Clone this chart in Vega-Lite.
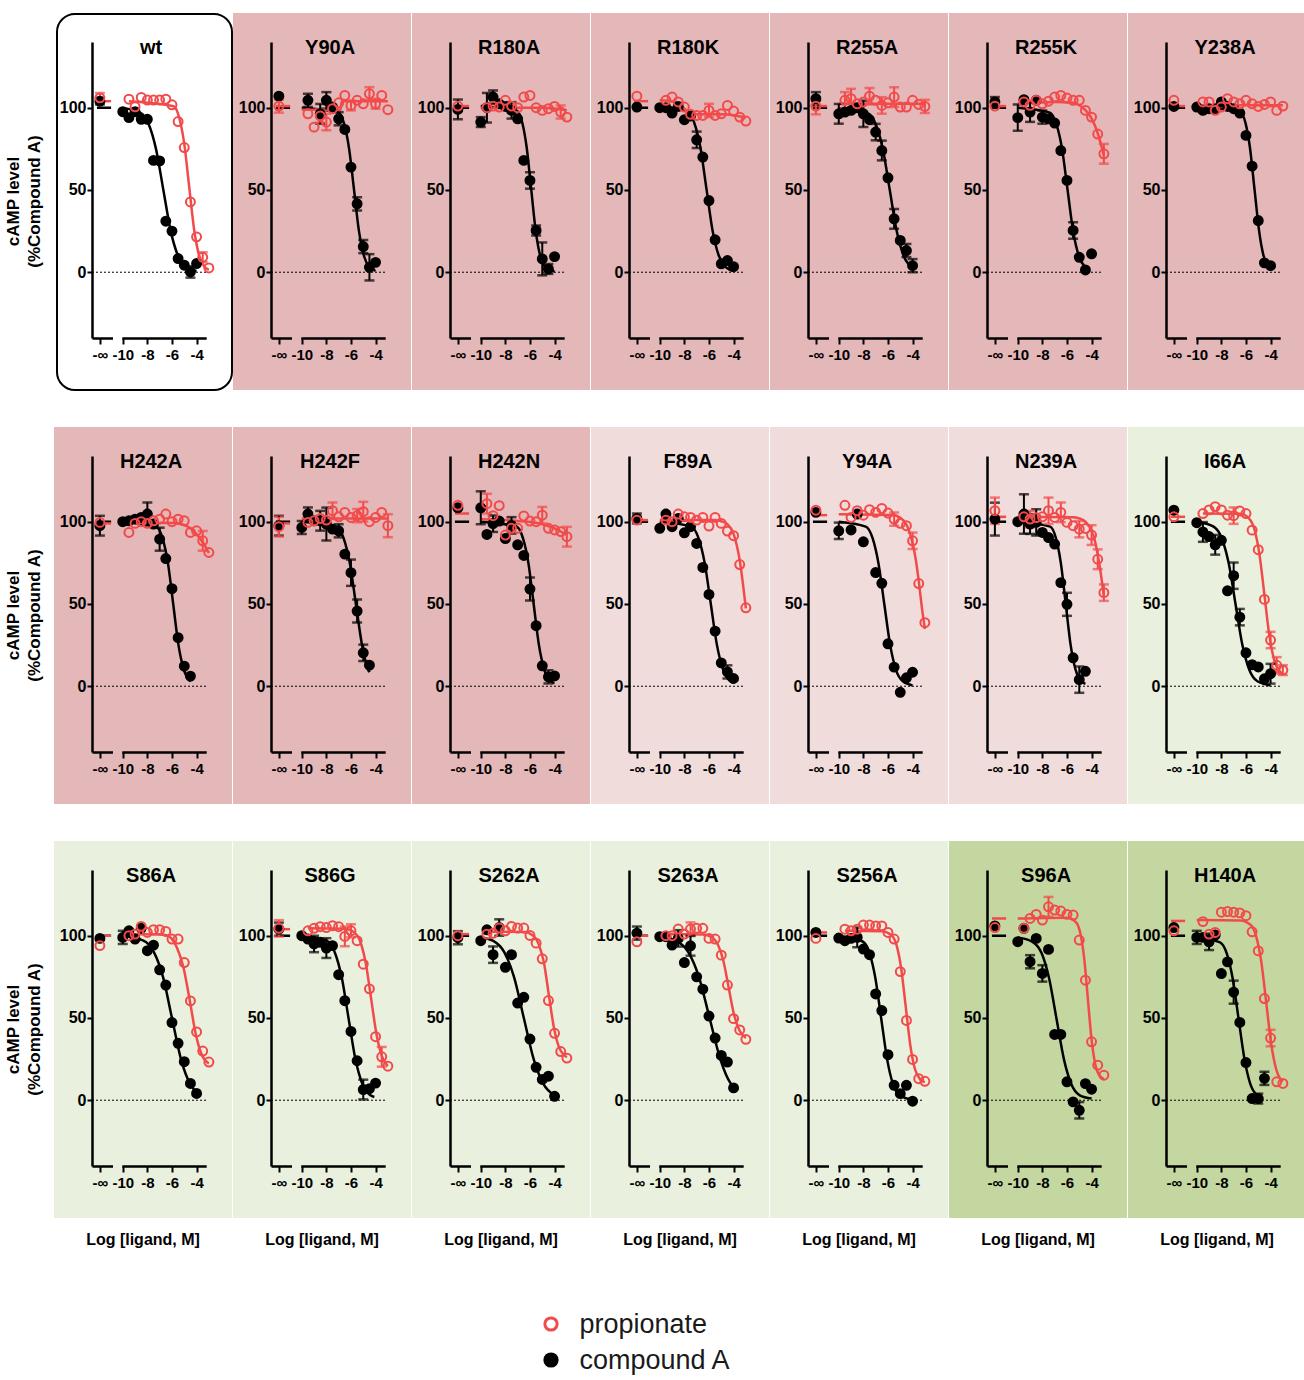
{
"$schema":"https://vega.github.io/schema/vega-lite/v6.json",
"padding":{"left":4,"top":13,"right":0,"bottom":0},
"background":"white",
"spacing":58,
"center":true,
"vconcat":[
{
"data":{"values":[
{"p":"wt","r":1,"c":1,"k":"panel","grp":"wt","x":[0],"y":[0],"e":[0]},
{"p":"wt","r":1,"c":1,"k":"pt","s":"compound A","x":[-11.86,-10,-9.5,-9,-8.5,-8,-7.5,-7,-6.5,-6,-5.5,-5,-4.5,-4],"y":[104,97.6,94,97.6,93,93,68,67.7,31,25,8.3,4.3,0.2,5.3],"e":[2,0,0,0,0,0,0,0,0,0,0,0,3.5,0]},
{"p":"wt","r":1,"c":1,"k":"pt","s":"propionate","x":[-11.86,-9.5,-9,-8.5,-8,-7.5,-7,-6.5,-6,-5.5,-5,-4.5,-4,-3.5,-3],"y":[106,105.2,100.6,106.3,104.7,104.7,104.7,105.2,101.8,91.6,75.8,42.7,21.5,9.1,2.6],"e":[3,0,0,0,0,0,0,0,0,0,0,0,0,3,0]},
{"p":"wt","r":1,"c":1,"k":"cv","s":"compound A","g":"fit","x":[-10,-8.59,-7.89,-7.3,-6.7,-6.1,-5.51,-4.81,-4],"y":[99.8,97,90,75,50,25,10,3,0.7],"e":[]},
{"p":"wt","r":1,"c":1,"k":"cv","s":"propionate","g":"fit","x":[-9.5,-5.86,-5.4,-5.0,-4.6,-4.2,-3.8,-3.34,-3],"y":[104,100.9,93.6,78,52,26,10.4,3.1,1.5],"e":[]},
{"p":"wt","r":1,"c":1,"k":"cv","s":"compound A","g":"inf","x":[-12.1,-10.95],"y":[100,100],"e":[]},
{"p":"wt","r":1,"c":1,"k":"cv","s":"propionate","g":"inf","x":[-12.1,-10.95],"y":[104,104],"e":[]},

{"p":"Y90A","r":1,"c":2,"k":"panel","grp":"A","x":[0],"y":[0],"e":[0]},
{"p":"Y90A","r":1,"c":2,"k":"pt","s":"compound A","x":[-11.86,-9.5,-8.5,-8,-7.5,-7,-6.5,-6,-5.5,-5,-4.5,-4],"y":[107,104.5,96.3,104.5,100.4,93.3,86.8,63.9,41.6,15.6,3,6],"e":[0,4,6,5,0,4,0,0,4,4,8,0]},
{"p":"Y90A","r":1,"c":2,"k":"pt","s":"propionate","x":[-11.86,-9.5,-9,-8.5,-8,-7.5,-7,-6.5,-6,-5.5,-5,-4.5,-4,-3.5,-3],"y":[101,96.3,88.2,95,91.3,99.4,103,107.5,101.4,104.5,102.4,108.5,102.4,107.5,98.8],"e":[4,0,0,4,5,0,0,0,3,0,0,4,3,0,0]},
{"p":"Y90A","r":1,"c":2,"k":"cv","s":"compound A","g":"fit","x":[-10,-7.01,-6.55,-6.15,-5.75,-5.35,-4.95,-4.49,-4],"y":[100,97,90,75,50,25,10,3,0.8],"e":[]},
{"p":"Y90A","r":1,"c":2,"k":"cv","s":"propionate","g":"fit","x":[-10,-6.85,-6.75,-3],"y":[98.8,98.8,103.9,103.9],"e":[]},
{"p":"Y90A","r":1,"c":2,"k":"cv","s":"compound A","g":"inf","x":[-12.1,-10.95],"y":[100,100],"e":[]},
{"p":"Y90A","r":1,"c":2,"k":"cv","s":"propionate","g":"inf","x":[-12.1,-10.95],"y":[101,101],"e":[]},

{"p":"R180A","r":1,"c":3,"k":"panel","grp":"A","x":[0],"y":[0],"e":[0]},
{"p":"R180A","r":1,"c":3,"k":"pt","s":"compound A","x":[-11.86,-10,-9.5,-9,-8.5,-8,-7.5,-7,-6.5,-6,-5.5,-5,-4.5,-4],"y":[99,91.3,100,106.5,102.4,100.8,98.4,93.3,68,55.8,25.4,8.1,2,9.5],"e":[6,3,9,4,0,0,5,0,0,5,3,10,3,0]},
{"p":"R180A","r":1,"c":3,"k":"pt","s":"propionate","x":[-11.86,-9.5,-9,-8.5,-8,-7.5,-7,-6.5,-6,-5.5,-5,-4.5,-4,-3.5,-3],"y":[101,100,101,100.4,104.5,101,100,106.5,107.5,100,98.4,99.4,100.8,97.4,94.3],"e":[0,0,0,0,0,0,0,0,0,0,0,0,0,4,0]},
{"p":"R180A","r":1,"c":3,"k":"cv","s":"compound A","g":"fit","x":[-10,-7.06,-6.63,-6.27,-5.9,-5.53,-5.17,-4.74,-4],"y":[101,98,91,76,50.5,25,10,3,0.5],"e":[]},
{"p":"R180A","r":1,"c":3,"k":"cv","s":"propionate","g":"fit","x":[-10,-5,-3],"y":[100,100,98.5],"e":[]},
{"p":"R180A","r":1,"c":3,"k":"cv","s":"compound A","g":"inf","x":[-12.1,-10.95],"y":[100,100],"e":[]},
{"p":"R180A","r":1,"c":3,"k":"cv","s":"propionate","g":"inf","x":[-12.1,-10.95],"y":[101,101],"e":[]},

{"p":"R180K","r":1,"c":4,"k":"panel","grp":"A","x":[0],"y":[0],"e":[0]},
{"p":"R180K","r":1,"c":4,"k":"pt","s":"compound A","x":[-11.86,-10,-9.5,-9,-8.5,-8,-7.5,-7,-6.5,-6,-5.5,-5,-4.5,-4],"y":[100.4,100,100,96.8,100.8,92.7,95,80.5,70,43.6,19.7,5.1,7.1,3.4],"e":[0,0,0,0,0,0,0,5,0,0,0,0,0,0]},
{"p":"R180K","r":1,"c":4,"k":"pt","s":"propionate","x":[-11.86,-9.5,-9,-8.5,-8,-7.5,-7,-6.5,-6,-5.5,-5,-4.5,-4,-3.5,-3],"y":[107,104.5,106.5,103.5,100.4,96,95.3,95.3,98.4,95.3,96.3,101.4,98,94.3,91.9],"e":[0,0,0,0,0,0,0,0,4,0,0,0,0,0,0]},
{"p":"R180K","r":1,"c":4,"k":"cv","s":"compound A","g":"fit","x":[-10,-7.79,-7.2,-6.7,-6.2,-5.7,-5.2,-4.61,-4],"y":[101,97.9,91,76,50.5,25,10,3,0.8],"e":[]},
{"p":"R180K","r":1,"c":4,"k":"cv","s":"propionate","g":"fit","x":[-10,-9,-8.3,-7.7,-7,-5,-4,-3],"y":[104.5,104,101.5,97.5,96,96,95.5,94],"e":[]},
{"p":"R180K","r":1,"c":4,"k":"cv","s":"compound A","g":"inf","x":[-12.1,-10.95],"y":[100,100],"e":[]},
{"p":"R180K","r":1,"c":4,"k":"cv","s":"propionate","g":"inf","x":[-12.1,-10.95],"y":[104,104],"e":[]},

{"p":"R255A","r":1,"c":5,"k":"panel","grp":"A","x":[0],"y":[0],"e":[0]},
{"p":"R255A","r":1,"c":5,"k":"pt","s":"compound A","x":[-11.86,-10,-9.5,-9,-8.5,-8,-7.5,-7,-6.5,-6,-5.5,-5,-4.5,-4],"y":[105.5,96.3,97.4,98.4,100,96.3,92.7,85.2,74,57.4,32.5,19.3,13.2,4],"e":[4,6,0,0,0,8,0,5,6,0,6,0,4,4]},
{"p":"R255A","r":1,"c":5,"k":"pt","s":"propionate","x":[-11.86,-9.5,-9,-8.5,-8,-7.5,-7,-6.5,-6,-5.5,-5,-4.5,-4,-3.5,-3],"y":[101,104.5,105.5,102.4,103.5,107,104.5,101.4,103,106.5,100.4,100.4,104.5,102,100.8],"e":[5,5,6,0,0,5,0,5,0,6,0,0,0,0,4]},
{"p":"R255A","r":1,"c":5,"k":"cv","s":"compound A","g":"fit","x":[-10,-7.63,-6.97,-6.41,-5.85,-5.29,-4.73,-4],"y":[99.5,96.5,89.5,74.6,49.8,25,10,2.8],"e":[]},
{"p":"R255A","r":1,"c":5,"k":"cv","s":"propionate","g":"fit","x":[-10,-3],"y":[102.4,102.4],"e":[]},
{"p":"R255A","r":1,"c":5,"k":"cv","s":"compound A","g":"inf","x":[-12.1,-10.95],"y":[100,100],"e":[]},
{"p":"R255A","r":1,"c":5,"k":"cv","s":"propionate","g":"inf","x":[-12.1,-10.95],"y":[101,101],"e":[]},

{"p":"R255K","r":1,"c":6,"k":"panel","grp":"A","x":[0],"y":[0],"e":[0]},
{"p":"R255K","r":1,"c":6,"k":"pt","s":"compound A","x":[-11.86,-10,-9.5,-9,-8.5,-8,-7.5,-7,-6.5,-6,-5.5,-5,-4.5,-4],"y":[103.5,94,104.9,97.4,104.5,94.3,93.3,90.7,74,55.8,25.4,9.1,1.4,11.2],"e":[3,8,0,6,0,4,0,0,0,0,5,0,0,0]},
{"p":"R255K","r":1,"c":6,"k":"pt","s":"propionate","x":[-11.86,-9.5,-9,-8.5,-8,-7.5,-7,-6.5,-6,-5.5,-5,-4.5,-4,-3.5,-3],"y":[101,103.5,101.5,104.5,102.4,104,106.5,107.5,105.9,104.5,104.5,98.4,94.3,84,72],"e":[0,0,0,0,0,0,0,0,0,0,0,0,0,0,6]},
{"p":"R255K","r":1,"c":6,"k":"cv","s":"compound A","g":"fit","x":[-10,-7.39,-6.86,-6.4,-5.95,-5.5,-5.04,-4.51,-4.2],"y":[100,97,90,75,50,25,10,3,1.3],"e":[]},
{"p":"R255K","r":1,"c":6,"k":"cv","s":"propionate","g":"fit","x":[-10,-7,-5.5,-5,-4.5,-4,-3.5,-3],"y":[102.5,103.5,103,101.5,98.5,93.5,84.5,71],"e":[]},
{"p":"R255K","r":1,"c":6,"k":"cv","s":"compound A","g":"inf","x":[-12.1,-10.95],"y":[100,100],"e":[]},
{"p":"R255K","r":1,"c":6,"k":"cv","s":"propionate","g":"inf","x":[-12.1,-10.95],"y":[101,101],"e":[]},

{"p":"Y238A","r":1,"c":7,"k":"panel","grp":"A","x":[0],"y":[0],"e":[0]},
{"p":"Y238A","r":1,"c":7,"k":"pt","s":"compound A","x":[-11.86,-10,-9.5,-9,-8.5,-8,-7.5,-7,-6.5,-6,-5.5,-5,-4.5,-4],"y":[100.8,100.4,98.4,99.4,99.4,103.5,100.8,99.4,96.8,83.2,64.5,31.4,5.7,4],"e":[0,0,0,0,0,0,0,0,0,0,0,0,0,0]},
{"p":"Y238A","r":1,"c":7,"k":"pt","s":"propionate","x":[-11.86,-9.5,-9,-8.5,-8,-7.5,-7,-6.5,-6,-5.5,-5,-4.5,-4,-3.5,-3],"y":[104.5,103.5,103.5,98.4,100.4,105.5,103.5,102.4,104.5,102.4,100.8,102,103.5,98.4,101],"e":[0,0,0,0,0,0,0,0,0,0,0,0,0,0,0]},
{"p":"Y238A","r":1,"c":7,"k":"cv","s":"compound A","g":"fit","x":[-10,-6.46,-6.03,-5.67,-5.3,-4.93,-4.57,-4.14,-4],"y":[100.5,97.5,90.5,75.4,50,25,10,3,2],"e":[]},
{"p":"Y238A","r":1,"c":7,"k":"cv","s":"propionate","g":"fit","x":[-10,-3],"y":[101.5,101.5],"e":[]},
{"p":"Y238A","r":1,"c":7,"k":"cv","s":"compound A","g":"inf","x":[-12.1,-10.95],"y":[100,100],"e":[]},
{"p":"Y238A","r":1,"c":7,"k":"cv","s":"propionate","g":"inf","x":[-12.1,-10.95],"y":[101,101],"e":[]},

{"p":"H242A","r":2,"c":1,"k":"panel","grp":"A","x":[0],"y":[0],"e":[0]},
{"p":"H242A","r":2,"c":1,"k":"pt","s":"compound A","x":[-11.86,-10,-9.5,-9,-8.5,-8,-7.5,-7,-6.5,-6,-5.5,-5,-4.5],"y":[97.6,100,100.6,101.6,102.6,104.7,98.6,89.4,77.6,59.3,29.5,12.2,6.1],"e":[6,0,0,0,0,7,0,7,0,0,0,0,0]},
{"p":"H242A","r":2,"c":1,"k":"pt","s":"propionate","x":[-11.86,-9.5,-9,-8.5,-8,-7.5,-7,-6.5,-6,-5.5,-5,-4.5,-4,-3.5,-3],"y":[99.6,93.5,99,100,99,100.6,101.6,104.7,100,101.6,100.6,93.5,94.5,88.4,81.3],"e":[0,0,0,0,0,0,0,0,0,0,0,0,0,6,0]},
{"p":"H242A","r":2,"c":1,"k":"cv","s":"compound A","g":"fit","x":[-10,-7.27,-6.77,-6.33,-5.9,-5.47,-5.03,-4.5],"y":[100,97,90,75,50,25,10,3],"e":[]},
{"p":"H242A","r":2,"c":1,"k":"cv","s":"propionate","g":"fit","x":[-10,-6,-5,-4.5,-4,-3.5,-3],"y":[99.5,99.3,98,96,92.5,87.5,81],"e":[]},
{"p":"H242A","r":2,"c":1,"k":"cv","s":"compound A","g":"inf","x":[-12.1,-10.95],"y":[100,100],"e":[]},
{"p":"H242A","r":2,"c":1,"k":"cv","s":"propionate","g":"inf","x":[-12.1,-10.95],"y":[99,99],"e":[]},

{"p":"H242F","r":2,"c":2,"k":"panel","grp":"A","x":[0],"y":[0],"e":[0]},
{"p":"H242F","r":2,"c":2,"k":"pt","s":"compound A","x":[-11.86,-10,-9.5,-9,-8.5,-8,-7.5,-7,-6.5,-6,-5.5,-5,-4.5],"y":[97.6,96.5,104.7,100.6,100.6,98.6,95.5,94.5,80.3,69,45.7,20.3,12.8],"e":[6,4,4,0,6,10,0,4,0,8,7,5,0]},
{"p":"H242F","r":2,"c":2,"k":"pt","s":"propionate","x":[-11.86,-9.5,-9,-8.5,-8,-7.5,-7,-6.5,-6,-5.5,-5,-4.5,-4,-3.5,-3],"y":[97,99.6,100.6,102,101,106.7,103,105.7,102.6,103.7,106.1,100,102.6,105.7,97.6],"e":[6,0,0,0,0,5,0,0,0,4,6,0,0,0,7]},
{"p":"H242F","r":2,"c":2,"k":"cv","s":"compound A","g":"fit","x":[-10,-7.19,-6.6,-6.1,-5.6,-5.1,-4.6,-4.5],"y":[100,97,90,75,50,25,10,8.5],"e":[]},
{"p":"H242F","r":2,"c":2,"k":"cv","s":"propionate","g":"fit","x":[-10,-3],"y":[102,102],"e":[]},
{"p":"H242F","r":2,"c":2,"k":"cv","s":"compound A","g":"inf","x":[-12.1,-10.95],"y":[100,100],"e":[]},
{"p":"H242F","r":2,"c":2,"k":"cv","s":"propionate","g":"inf","x":[-12.1,-10.95],"y":[99,99],"e":[]},

{"p":"H242N","r":2,"c":3,"k":"panel","grp":"A","x":[0],"y":[0],"e":[0]},
{"p":"H242N","r":2,"c":3,"k":"pt","s":"compound A","x":[-11.86,-10,-9.5,-9,-8.5,-8,-7.5,-7,-6.5,-6,-5.5,-5,-4.5,-4],"y":[108.5,108.5,92.3,98.8,100.4,89.8,97.8,86,79.5,59.1,36.8,12.4,5.7,6.3],"e":[0,10,0,5,0,0,5,0,0,7,0,0,4,0]},
{"p":"H242N","r":2,"c":3,"k":"pt","s":"propionate","x":[-11.86,-9.5,-9,-8.5,-8,-7.5,-7,-6.5,-6,-5.5,-5,-4.5,-4,-3.5,-3],"y":[110,111,103.7,109.8,91.9,96,96,103.5,100.4,100,104,96,95,94,90.9],"e":[0,6,0,0,0,0,0,0,0,0,5,0,0,0,6]},
{"p":"H242N","r":2,"c":3,"k":"cv","s":"compound A","g":"fit","x":[-10,-7.07,-6.57,-6.13,-5.7,-5.27,-4.83,-4.33,-4],"y":[100,97,90,75,50,25,10,3,2],"e":[]},
{"p":"H242N","r":2,"c":3,"k":"cv","s":"propionate","g":"fit","x":[-10,-7,-5,-4,-3],"y":[101.5,100.5,98.5,96,92],"e":[]},
{"p":"H242N","r":2,"c":3,"k":"cv","s":"compound A","g":"inf","x":[-12.1,-10.95],"y":[100,100],"e":[]},
{"p":"H242N","r":2,"c":3,"k":"cv","s":"propionate","g":"inf","x":[-12.1,-10.95],"y":[105,105],"e":[]},

{"p":"F89A","r":2,"c":4,"k":"panel","grp":"B","x":[0],"y":[0],"e":[0]},
{"p":"F89A","r":2,"c":4,"k":"pt","s":"compound A","x":[-11.86,-10,-9.5,-9,-8.5,-8,-7.5,-7,-6.5,-6,-5.5,-5,-4.5,-4],"y":[102,96,104.7,97,102,93.3,97,86.8,72.2,55.8,33.5,14.2,8.7,4.7],"e":[3,0,0,0,0,0,0,0,0,0,0,0,4,0]},
{"p":"F89A","r":2,"c":4,"k":"pt","s":"propionate","x":[-11.86,-9.5,-9,-8.5,-8,-7.5,-7,-6.5,-6,-5.5,-5,-4.5,-4,-3.5,-3],"y":[101,101,100,104.7,103,102.6,101,102.6,97.4,102.6,99,94.3,91.5,74,47.7],"e":[0,0,0,0,0,0,0,0,0,0,0,0,0,0,0]},
{"p":"F89A","r":2,"c":4,"k":"cv","s":"compound A","g":"fit","x":[-10,-7.44,-6.85,-6.35,-5.85,-5.35,-4.85,-4.26,-4],"y":[100,97,90,75,50,25,10,3,2],"e":[]},
{"p":"F89A","r":2,"c":4,"k":"cv","s":"propionate","g":"fit","x":[-10,-5.5,-5,-4.5,-4,-3.75,-3.5,-3.25,-3],"y":[101,101,100.3,98.5,92.6,86,76.5,63,47.3],"e":[]},
{"p":"F89A","r":2,"c":4,"k":"cv","s":"compound A","g":"inf","x":[-12.1,-10.95],"y":[100,100],"e":[]},
{"p":"F89A","r":2,"c":4,"k":"cv","s":"propionate","g":"inf","x":[-12.1,-10.95],"y":[101,101],"e":[]},

{"p":"Y94A","r":2,"c":5,"k":"panel","grp":"B","x":[0],"y":[0],"e":[0]},
{"p":"Y94A","r":2,"c":5,"k":"pt","s":"compound A","x":[-11.86,-10,-9,-8.5,-8,-7,-6.5,-6,-5.5,-5,-4.5,-4],"y":[105.7,94.5,95,104.7,87.8,69.1,62.6,25.8,11.6,-3.7,5.1,8.5],"e":[0,5,0,0,0,0,0,0,0,0,0,0]},
{"p":"Y94A","r":2,"c":5,"k":"pt","s":"propionate","x":[-11.86,-9.5,-9,-8.5,-8,-7.5,-7,-6.5,-6,-5.5,-5,-4.5,-4,-3.5,-3],"y":[107,110,102.6,106.7,104,107.3,105.7,108.1,105.3,101.6,99,97.6,88.4,62.4,38.6],"e":[0,0,0,0,0,0,0,0,0,4,0,0,5,0,0]},
{"p":"Y94A","r":2,"c":5,"k":"cv","s":"compound A","g":"fit","x":[-10,-7.81,-7.25,-6.78,-6.3,-5.82,-5.35,-4.79,-4],"y":[100,97,90,75,50,25,10,3,0.5],"e":[]},
{"p":"Y94A","r":2,"c":5,"k":"cv","s":"propionate","g":"fit","x":[-10,-5.5,-5,-4.5,-4,-3.75,-3.5,-3.25,-3],"y":[104.5,104,102.4,98.3,87,77.5,64,48.3,34.8],"e":[]},
{"p":"Y94A","r":2,"c":5,"k":"cv","s":"compound A","g":"inf","x":[-12.1,-10.95],"y":[100,100],"e":[]},
{"p":"Y94A","r":2,"c":5,"k":"cv","s":"propionate","g":"inf","x":[-12.1,-10.95],"y":[104,104],"e":[]},

{"p":"N239A","r":2,"c":6,"k":"panel","grp":"B","x":[0],"y":[0],"e":[0]},
{"p":"N239A","r":2,"c":6,"k":"pt","s":"compound A","x":[-11.86,-10,-9.5,-9,-8.5,-8,-7.5,-7,-6.5,-6,-5.5,-5,-4.5],"y":[101.6,100,104.7,98.6,99.6,93.5,90.4,86.4,63,49.8,17.3,4,9.1],"e":[10,0,12,6,8,0,0,0,0,7,0,8,0]},
{"p":"N239A","r":2,"c":6,"k":"pt","s":"propionate","x":[-11.86,-9.5,-9,-8.5,-8,-7.5,-7,-6.5,-6,-5.5,-5,-4.5,-4,-3.5,-3],"y":[106.7,103,101.6,102.5,103,106.7,102.6,105.7,99.6,97.6,95.5,95.9,91.9,77.2,56.9],"e":[8,0,5,0,0,8,0,6,0,0,5,0,6,6,5]},
{"p":"N239A","r":2,"c":6,"k":"cv","s":"compound A","g":"fit","x":[-10,-7.36,-6.9,-6.5,-6.1,-5.7,-5.3,-4.84,-4.5],"y":[100,97,90,75,50,25,10,3,1.5],"e":[]},
{"p":"N239A","r":2,"c":6,"k":"cv","s":"propionate","g":"fit","x":[-10,-5.5,-5,-4.5,-4,-3.75,-3.5,-3.25,-3],"y":[103,102.8,102,100,94.6,89,80,68.5,54.5],"e":[]},
{"p":"N239A","r":2,"c":6,"k":"cv","s":"compound A","g":"inf","x":[-12.1,-10.95],"y":[100,100],"e":[]},
{"p":"N239A","r":2,"c":6,"k":"cv","s":"propionate","g":"inf","x":[-12.1,-10.95],"y":[103,103],"e":[]},

{"p":"I66A","r":2,"c":7,"k":"panel","grp":"C","x":[0],"y":[0],"e":[0]},
{"p":"I66A","r":2,"c":7,"k":"pt","s":"compound A","x":[-11.86,-10,-9.5,-9,-8.5,-8,-7.5,-7,-6.5,-6,-5.5,-5,-4.5,-4],"y":[107,99.4,93.8,91,86,88.7,58,67.2,42,20.3,13.1,11.7,4.5,7.6],"e":[0,0,6,0,6,0,0,8,5,0,0,0,0,6]},
{"p":"I66A","r":2,"c":7,"k":"pt","s":"propionate","x":[-11.86,-9.5,-9,-8.5,-8,-7.5,-7,-6.5,-6,-5.5,-5,-4.5,-4,-3.5,-3],"y":[103,105,107.2,109.2,107.2,104,103.7,106.5,105,94.9,83,52.8,28.1,12.7,9.8],"e":[0,0,0,0,0,0,5,0,0,0,0,0,5,5,3]},
{"p":"I66A","r":2,"c":7,"k":"cv","s":"compound A","g":"fit","x":[-10,-8.63,-7.97,-7.41,-6.85,-6.29,-5.73,-5.07,-4],"y":[100,97,90,75,50,25,10,3,0.5],"e":[]},
{"p":"I66A","r":2,"c":7,"k":"cv","s":"propionate","g":"fit","x":[-9.5,-6.5,-5.76,-5.3,-4.9,-4.5,-4.1,-3.7,-3.24,-3],"y":[105,104.8,102,95,80,55.5,30.8,15.9,9,7.5],"e":[]},
{"p":"I66A","r":2,"c":7,"k":"cv","s":"compound A","g":"inf","x":[-12.1,-10.95],"y":[100,100],"e":[]},
{"p":"I66A","r":2,"c":7,"k":"cv","s":"propionate","g":"inf","x":[-12.1,-10.95],"y":[103,103],"e":[]},

{"p":"S86A","r":3,"c":1,"k":"panel","grp":"C","x":[0],"y":[0],"e":[0]},
{"p":"S86A","r":3,"c":1,"k":"pt","s":"compound A","x":[-11.86,-10,-9.5,-9,-8.5,-8,-7.5,-7,-6.5,-6,-5.5,-5,-4.5,-4],"y":[98.4,99,103,98,104.5,90.9,94.3,79.3,70,47.2,34.6,23.4,10.2,4.1],"e":[0,4,0,0,0,0,0,0,0,0,0,0,0,0]},
{"p":"S86A","r":3,"c":1,"k":"pt","s":"propionate","x":[-11.86,-9.5,-9,-8.5,-8,-7.5,-7,-6.5,-6,-5.5,-5,-4.5,-4,-3.5,-3],"y":[94,100,101,105.7,102,103.7,103.7,102.6,98,98,83.7,60.4,41.5,29.9,23.2],"e":[0,0,0,0,0,0,0,0,0,0,0,0,0,0,0]},
{"p":"S86A","r":3,"c":1,"k":"cv","s":"compound A","g":"fit","x":[-10,-8.32,-7.47,-6.73,-6,-5.27,-4.53,-4],"y":[99.8,97,90,75,50,25,10,4.8],"e":[]},
{"p":"S86A","r":3,"c":1,"k":"cv","s":"propionate","g":"fit","x":[-9.5,-6.5,-6.06,-5.6,-5.07,-4.55,-4.07,-3.6,-3],"y":[101,100.5,98.6,92.9,80.8,60.5,40.3,28.1,22.3],"e":[]},
{"p":"S86A","r":3,"c":1,"k":"cv","s":"compound A","g":"inf","x":[-12.1,-10.95],"y":[100,100],"e":[]},
{"p":"S86A","r":3,"c":1,"k":"cv","s":"propionate","g":"inf","x":[-12.1,-10.95],"y":[100,100],"e":[]},

{"p":"S86G","r":3,"c":2,"k":"panel","grp":"C","x":[0],"y":[0],"e":[0]},
{"p":"S86G","r":3,"c":2,"k":"pt","s":"compound A","x":[-11.86,-10,-9.5,-9,-8.5,-8,-7.5,-7,-6.5,-6,-5.5,-5,-4.5,-4],"y":[104,100,98,95,96,92.5,94,76.3,60.5,41.8,24,6.5,7,10.4],"e":[4,0,0,5,0,6,0,0,0,0,0,6,0,0]},
{"p":"S86G","r":3,"c":2,"k":"pt","s":"propionate","x":[-11.86,-9.5,-9,-8.5,-8,-7.5,-7,-6.5,-6,-5.5,-5,-4.5,-4,-3.5,-3],"y":[104.5,103,104.5,105.5,105,106.1,105.5,99.6,103,97,82.7,67.7,38.6,26.4,20.7],"e":[5,0,0,0,0,0,0,6,4,0,0,0,0,6,0]},
{"p":"S86G","r":3,"c":2,"k":"cv","s":"compound A","g":"fit","x":[-10,-7.98,-7.32,-6.76,-6.2,-5.64,-5.08,-4.42,-4.1],"y":[100,97,90,75,50,25,10,3,2],"e":[]},
{"p":"S86G","r":3,"c":2,"k":"cv","s":"propionate","g":"fit","x":[-9.5,-6.5,-5.72,-5.22,-4.78,-4.35,-3.92,-3.48,-3],"y":[104.5,104.2,101.9,95.9,82.6,61.2,39.9,26.6,20.7],"e":[]},
{"p":"S86G","r":3,"c":2,"k":"cv","s":"compound A","g":"inf","x":[-12.1,-10.95],"y":[100,100],"e":[]},
{"p":"S86G","r":3,"c":2,"k":"cv","s":"propionate","g":"inf","x":[-12.1,-10.95],"y":[104,104],"e":[]},

{"p":"S262A","r":3,"c":3,"k":"panel","grp":"C","x":[0],"y":[0],"e":[0]},
{"p":"S262A","r":3,"c":3,"k":"pt","s":"compound A","x":[-11.86,-10,-9.5,-9,-8.5,-8,-7.5,-7,-6.5,-6,-5.5,-5,-4.5,-4],"y":[98.8,97,103.6,88.5,105,80.8,88.5,59.1,62.6,37.2,20,12.6,14.6,2.4],"e":[4,0,0,5,5,0,0,0,0,0,0,0,0,0]},
{"p":"S262A","r":3,"c":3,"k":"pt","s":"propionate","x":[-11.86,-9.5,-9,-8.5,-8,-7.5,-7,-6.5,-6,-5.5,-5,-4.5,-4,-3.5,-3],"y":[100,101,101.5,104.7,103,105.7,104.7,104.7,100.2,95.5,86,60.6,40.7,29.6,25.6],"e":[0,0,0,0,0,0,0,0,0,0,0,0,0,0,0]},
{"p":"S262A","r":3,"c":3,"k":"cv","s":"compound A","g":"fit","x":[-10,-9.02,-8.09,-7.3,-6.5,-5.7,-4.91,-4],"y":[99,97,90,75,50,25,10,3],"e":[]},
{"p":"S262A","r":3,"c":3,"k":"cv","s":"propionate","g":"fit","x":[-9.5,-6.5,-5.76,-5.28,-4.86,-4.45,-4.04,-3.62,-3],"y":[102.5,102.3,100.1,94.6,83.4,63.2,43.6,31.9,26.1],"e":[]},
{"p":"S262A","r":3,"c":3,"k":"cv","s":"compound A","g":"inf","x":[-12.1,-10.95],"y":[100,100],"e":[]},
{"p":"S262A","r":3,"c":3,"k":"cv","s":"propionate","g":"inf","x":[-12.1,-10.95],"y":[101,101],"e":[]},

{"p":"S263A","r":3,"c":4,"k":"panel","grp":"C","x":[0],"y":[0],"e":[0]},
{"p":"S263A","r":3,"c":4,"k":"pt","s":"compound A","x":[-11.86,-10,-9.5,-9,-8.5,-8,-7.5,-7,-6.5,-6,-5.5,-5,-4.5,-4],"y":[101.6,99.4,99.4,94.3,98.4,83.7,93.9,75,67.5,51.2,37.8,27.2,23.2,7.5],"e":[4,0,0,0,5,0,6,0,0,0,0,0,0,0]},
{"p":"S263A","r":3,"c":4,"k":"pt","s":"propionate","x":[-11.86,-9.5,-9,-8.5,-8,-7.5,-7,-6.5,-6,-5.5,-5,-4.5,-4,-3.5,-3],"y":[96.3,100,100,104.1,101,104.1,104.5,104.5,98.4,98,88.2,70,49.6,42.7,37],"e":[0,0,0,0,0,4,0,0,0,0,0,0,0,0,0]},
{"p":"S263A","r":3,"c":4,"k":"cv","s":"compound A","g":"fit","x":[-10,-8.7,-7.68,-6.82,-5.95,-5.08,-4.22,-4],"y":[99.5,97,90,75,50,25,10,8],"e":[]},
{"p":"S263A","r":3,"c":4,"k":"cv","s":"propionate","g":"fit","x":[-9.5,-6.5,-5.77,-5.27,-4.83,-4.4,-3.97,-3.53,-3],"y":[101,100.8,99.1,94.5,84.8,68.5,52.3,42.5,37.8],"e":[]},
{"p":"S263A","r":3,"c":4,"k":"cv","s":"compound A","g":"inf","x":[-12.1,-10.95],"y":[100,100],"e":[]},
{"p":"S263A","r":3,"c":4,"k":"cv","s":"propionate","g":"inf","x":[-12.1,-10.95],"y":[100,100],"e":[]},

{"p":"S256A","r":3,"c":5,"k":"panel","grp":"C","x":[0],"y":[0],"e":[0]},
{"p":"S256A","r":3,"c":5,"k":"pt","s":"compound A","x":[-11.86,-10,-9.5,-9,-8.5,-8,-7.5,-7,-6.5,-6,-5.5,-5,-4.5,-4],"y":[102,98.6,97,98.4,99,91.9,88.5,64.6,54.5,27.7,9.1,4,9.1,-0.6],"e":[0,0,0,0,6,0,0,0,0,0,0,0,0,0]},
{"p":"S256A","r":3,"c":5,"k":"pt","s":"propionate","x":[-11.86,-9.5,-9,-8.5,-8,-7.5,-7,-6.5,-6,-5.5,-5,-4.5,-4,-3.5,-3],"y":[98.4,104,103,104,106.5,106.5,106,106,102,98,78.2,48.5,24.8,13.1,11.5],"e":[0,0,0,0,0,0,0,0,0,0,0,0,0,0,0]},
{"p":"S256A","r":3,"c":5,"k":"cv","s":"compound A","g":"fit","x":[-10,-8.06,-7.5,-7.03,-6.55,-6.07,-5.6,-5.04,-4],"y":[99.5,96.5,89.5,74.5,49.7,25,10,3,0.2],"e":[]},
{"p":"S256A","r":3,"c":5,"k":"cv","s":"propionate","g":"fit","x":[-9.5,-6.5,-5.71,-5.28,-4.92,-4.55,-4.18,-3.82,-3.39,-3],"y":[103,102.8,100.2,93.7,79.8,56.5,33.2,19.3,12.8,11],"e":[]},
{"p":"S256A","r":3,"c":5,"k":"cv","s":"compound A","g":"inf","x":[-12.1,-10.95],"y":[100,100],"e":[]},
{"p":"S256A","r":3,"c":5,"k":"cv","s":"propionate","g":"inf","x":[-12.1,-10.95],"y":[102,102],"e":[]},

{"p":"S96A","r":3,"c":6,"k":"panel","grp":"D","x":[0],"y":[0],"e":[0]},
{"p":"S96A","r":3,"c":6,"k":"pt","s":"compound A","x":[-11.86,-10,-9.5,-9,-8.5,-8,-7.5,-7,-6.5,-6,-5.5,-5,-4.5,-4],"y":[106,96.4,104.5,84.2,98.4,77.1,91.7,40,40,11.2,-1,-6.1,10.1,6.7],"e":[0,0,0,4,0,5,0,0,0,0,0,5,0,0]},
{"p":"S96A","r":3,"c":6,"k":"pt","s":"propionate","x":[-11.86,-9.5,-9,-8.5,-8,-7.5,-7,-6.5,-6,-5.5,-5,-4.5,-4,-3.5,-3],"y":[105,104.5,110.5,113,109.5,117.6,115.6,115,113,112.6,97.4,73,35.5,21.3,15.2],"e":[0,0,0,0,0,6,0,0,0,0,0,0,0,0,0]},
{"p":"S96A","r":3,"c":6,"k":"cv","s":"compound A","g":"fit","x":[-10,-8.74,-8.04,-7.45,-6.85,-6.25,-5.66,-4.96,-4],"y":[99,96,89,74,49.5,25,10,3,1],"e":[]},
{"p":"S96A","r":3,"c":6,"k":"cv","s":"propionate","g":"fit","x":[-10,-6,-5.24,-4.9,-4.6,-4.3,-4.0,-3.7,-3.36,-3],"y":[110.5,111,108,101,86.2,61.5,36.8,21.9,15,13],"e":[]},
{"p":"S96A","r":3,"c":6,"k":"cv","s":"compound A","g":"inf","x":[-12.1,-10.95],"y":[100,100],"e":[]},
{"p":"S96A","r":3,"c":6,"k":"cv","s":"propionate","g":"inf","x":[-12.1,-10.95],"y":[110.5,110.5],"e":[]},

{"p":"H140A","r":3,"c":7,"k":"panel","grp":"D","x":[0],"y":[0],"e":[0]},
{"p":"H140A","r":3,"c":7,"k":"pt","s":"compound A","x":[-11.86,-10,-9.5,-9,-8.5,-8,-7.5,-7,-6.5,-6,-5.5,-5,-4.5],"y":[105,99,99,96.3,100.4,77,84.1,65.7,47.3,22.9,1,1,13.3],"e":[0,4,0,5,0,0,0,7,0,0,0,3,4]},
{"p":"H140A","r":3,"c":7,"k":"pt","s":"propionate","x":[-11.86,-9.5,-9,-8.5,-8,-7.5,-7,-6.5,-6,-5.5,-5,-4.5,-4,-3.5,-3],"y":[103,108.6,101,102,114.3,114.7,114.3,113.9,112.2,102.4,90.8,61.8,37.8,11.2,10.2],"e":[0,0,0,0,0,0,0,0,0,0,0,0,5,0,0]},
{"p":"H140A","r":3,"c":7,"k":"cv","s":"compound A","g":"fit","x":[-10,-8.11,-7.55,-7.08,-6.6,-6.12,-5.65,-5.09,-4.9],"y":[99,96,89,74,49.5,25,10,3,2],"e":[]},
{"p":"H140A","r":3,"c":7,"k":"cv","s":"propionate","g":"fit","x":[-10,-6.5,-5.61,-5.15,-4.75,-4.35,-3.95,-3.55,-3.09,-3],"y":[109.5,109.2,106.5,99,84,59.2,34.4,19,12,11.4],"e":[]},
{"p":"H140A","r":3,"c":7,"k":"cv","s":"compound A","g":"inf","x":[-12.1,-10.95],"y":[100,100],"e":[]},
{"p":"H140A","r":3,"c":7,"k":"cv","s":"propionate","g":"inf","x":[-12.1,-10.95],"y":[109,109],"e":[]}
]},
"transform":[{"flatten":["x","y","e"]}],
"facet":{
 "row":{"field":"r","type":"ordinal","header":{"title":null,"labelOrient":"left","labelAngle":-90,"labelExpr":"['cAMP level', '(%Compound A)']","labelFont":"Liberation Sans","labelFontSize":17,"labelFontWeight":"bold","labelColor":"black","labelPadding":2,"labelLineHeight":21}},
 "column":{"field":"c","type":"ordinal","header":{"title":null,"labelOrient":"bottom","labelExpr":"'Log [ligand, M]'","labelFont":"Liberation Sans","labelFontSize":16,"labelFontWeight":"bold","labelColor":"black","labelPadding":14}}
},
"spacing":{"row":36,"column":0},
"resolve":{"axis":{"x":"independent","y":"independent"}},
"spec":{
 "width":178,
 "height":377,
 "layer":[
  {"transform":[{"filter":"datum.grp == 'A'"}],
   "mark":{"type":"rect","fill":"#e4b7b8","strokeWidth":0},
   "encoding":{"x":{"value":0},"x2":{"value":"width"},"y":{"value":0},"y2":{"value":"height"}}},
  {"transform":[{"filter":"datum.grp == 'B'"}],
   "mark":{"type":"rect","fill":"#f1dcdc","strokeWidth":0},
   "encoding":{"x":{"value":0},"x2":{"value":"width"},"y":{"value":0},"y2":{"value":"height"}}},
  {"transform":[{"filter":"datum.grp == 'C'"}],
   "mark":{"type":"rect","fill":"#e9f0dd","strokeWidth":0},
   "encoding":{"x":{"value":0},"x2":{"value":"width"},"y":{"value":0},"y2":{"value":"height"}}},
  {"transform":[{"filter":"datum.grp == 'D'"}],
   "mark":{"type":"rect","fill":"#c4d7a1","strokeWidth":0},
   "encoding":{"x":{"value":0},"x2":{"value":"width"},"y":{"value":0},"y2":{"value":"height"}}},
  {"transform":[{"filter":"datum.grp == 'wt'"}],
   "mark":{"type":"rect","fill":"white","stroke":"black","strokeWidth":2,"cornerRadius":18},
   "encoding":{"x":{"value":3},"x2":{"value":"width"},"y":{"value":1},"y2":{"value":"height"}}},
  {"transform":[{"filter":"datum.k === 'panel'"}],
   "mark":{"type":"rule","strokeDash":[2,2],"strokeWidth":1,"color":"black"},
   "encoding":{
     "x":{"datum":-12.5,"type":"quantitative","scale":{"domain":[-15.59,-1.12],"nice":false,"zero":false},
       "axis":{"title":null,"zindex":1,"values":[-11.86,-10,-8,-6,-4],"offset":-52,"domainDash":[0,38,20.5,9.3,84.4,400],"tickSize":6,
         "labelExpr":"datum.value < -11 ? '-∞' : ('-' + toString(0 - datum.value))","labelPadding":3,"labelFontSize":15,"labelOverlap":false,"labelFlush":false,"labelBound":false}},
     "x2":{"datum":-3.2},
     "y":{"datum":0,"type":"quantitative","scale":{"domain":[-71.6,157.6],"nice":false,"zero":false},
       "axis":{"title":null,"zindex":1,"values":[0,50,100],"offset":-38,"domainDash":[0,52,296,400],"tickSize":5,"labelPadding":1,"labelFontSize":16}}}},
  {"transform":[{"filter":"'panel' == datum.k"}],
   "mark":{"type":"text","font":"Liberation Sans","fontSize":20,"fontWeight":"bold","baseline":"middle","align":"center","color":"black"},
   "encoding":{"x":{"datum":-7.7},"y":{"datum":136.5},"text":{"field":"p"}}},
  {"transform":[{"filter":"datum.k == 'cv'"}],
   "mark":{"type":"line","strokeWidth":2.5,"interpolate":"monotone"},
   "encoding":{"x":{"field":"x","type":"quantitative","title":null},"y":{"field":"y","type":"quantitative","title":null},
     "color":{"field":"s","type":"nominal","scale":{"domain":["propionate","compound A"],"range":["#f24a4a","#000000"]},"legend":null},
     "detail":{"field":"g","type":"nominal"}}},
  {"transform":[{"filter":"datum.k == 'pt' && datum.e > 0"}],
   "mark":{"type":"errorbar","ticks":{"size":10,"thickness":2.5},"rule":{"strokeWidth":2}},
   "encoding":{"x":{"field":"x","type":"quantitative","title":null},"y":{"field":"y","type":"quantitative","title":null},"yError":{"field":"e"},
     "color":{"field":"s","type":"nominal","legend":null}}},
  {"transform":[{"filter":"datum.k == 'pt'"}],
   "mark":{"type":"point","shape":"circle","size":80,"strokeWidth":2,"opacity":1,"filled":true},
   "encoding":{"x":{"field":"x","type":"quantitative","title":null},"y":{"field":"y","type":"quantitative","title":null},
     "stroke":{"field":"s","type":"nominal","scale":{"domain":["propionate","compound A"],"range":["#f24a4a","#000000"]},"legend":null},
     "fill":{"field":"s","type":"nominal","scale":{"domain":["propionate","compound A"],"range":["rgba(255,255,255,0)","#000000"]},"legend":null}}}
 ]
}
},
{
 "spacing":0,
 "hconcat":[
  {
   "data":{"values":[{"s":"propionate"},{"s":"compound A"}]},
   "width":20,
   "height":72,
   "mark":{"type":"point","shape":"circle","size":150,"strokeWidth":3,"opacity":1,"filled":true},
   "encoding":{
     "y":{"field":"s","type":"nominal","sort":["propionate","compound A"],"scale":{"domain":["propionate","compound A"]},
       "axis":{"orient":"right","title":null,"domain":false,"ticks":false,"grid":false,"zindex":1,"labelFont":"Liberation Sans","labelFontSize":27,"labelFontWeight":"normal","labelColor":"#1a1a1a","labelPadding":18}},
     "stroke":{"field":"s","type":"nominal","scale":{"domain":["propionate","compound A"],"range":["#f24a4a","#000000"]},"legend":null},
     "fill":{"field":"s","type":"nominal","scale":{"domain":["propionate","compound A"],"range":["rgba(255,255,255,0)","#000000"]},"legend":null}
   }
  },
  {
   "data":{"values":[]},
   "width":88,
   "height":10,
   "mark":"point",
   "encoding":{}
  }
 ]
}
],
"config":{
 "font":"Liberation Sans",
 "view":{"stroke":null},
 "axis":{"grid":false,"domainColor":"black","domainWidth":2.5,"tickColor":"black","tickWidth":2,"labelColor":"black","labelFont":"Liberation Sans","labelFontWeight":"bold"}
}
}
